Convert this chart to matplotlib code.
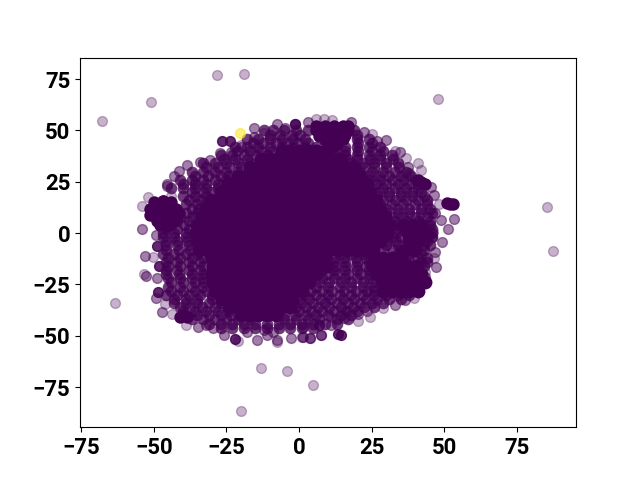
#!/usr/bin/env python
import matplotlib

matplotlib.use("Agg")
import matplotlib.pyplot as plt

PURPLE = "#440154"
YELLOW = "#fde725"

# single faint points around the blob
light_x = [-67.85, -51, -28.4, -19.1, 47.9, 85.65, 87.7, -63.4, -13, -4, 4.9, -20,
           -52, -11.9, 5.8, 8.6, 11.5, 25.2, 33, 37, 41.2, 42, 48.3, 46.2, 46.6, 43.6, 39.6, 28.8,
           24.6, 20.3, -50.4, -53.5, -46.3, -43.8, -38.8, -21, -7.5, -54, -44, -36, -30, -20]
light_y = [54.5, 63.7, 76.9, 77.6, 65.2, 12.7, -8.8, -33.8, -65.9, -67, -73.8, -86.5,
           17.6, 48.6, 55.8, 55.8, 55, 48.3, 40, 36.4, 34, 30.6, 14.1, 0.8, -12.2, -18.9, -31.6, -36.6,
           -41, -42.9, -11.7, -20, -34.6, -39.5, -44.5, -52.5, -53, 13, 18, 25, 31, 43]

# edge points that overlap a little
edge_x = [-15.4, -15.5, -27.4, -23.3, -34.3, -30.8, -38.6, -41.4, -43, -45.5, -45.5, -54, -49.4,
          -7.5, -4.9, 3.2, 17.9, 22.4, 30.1, 26.8, 34.8, 37.6, 38, 45.4, 46.5, 53.4, 49.1, 51.5,
          47, 49.2, 45.8, 46.9, 47.4, 43.3, 36.5, 33.1, 20.4, 23.5, 16.7, 11.2, 7.6, 3.7, 1.3,
          11.2, 15.4, -53.1, -52.8, -48.8, -49.2, -47.2, -34.8, -29.7, -25.7, -14.5, -11, -7.5,
          -2.7, 1.1, 3.7, 7.6, 1.5, -32, -18, -12, -9, -20, -1.4]
edge_y = [51.2, 46.8, 38.9, 39.5, 34.8, 35.6, 33.3, 30.1, 28, 22.9, 24, 2.1, -1,
          53.2, 51, 54.3, 54.3, 49.1, 45.4, 44.7, 39.4, 32.3, 29.1, 22.4, 18.5, 7, 6.3, 1.8,
          9.6, -4.2, -1.8, -9.4, -16.7, -21.3, -32.7, -34.8, -39.5, -37.9, -38, -41, -49.6, -51, -50.6,
          -44.7, -41.5, -11, -20.8, -21.6, -31.4, -38.4, -45.9, -46.3, -49.6, -51.9, -49.6, -52.2,
          -51.1, -50.6, -51.2, -49.6, -45.9, -44.5, -48, -47, -48, 42, 53]

# doubled-up points, darker than the edge ones
dark_x = [-26.5, -23.7, -49, -48.3, -48.6, -21.9, 13.5, 14.5, 6.8, -1.4]
dark_y = [44.9, 44.7, -6.2, -16.1, -28.6, -51.7, -48.9, -49.4, -44.9, 53]

# tight clumps
clump_x = [52, 51, 53, -50, -47, -44, -42.5, -51, -48, -45, -42, -50.5, -47.5, -44.5, -42, -49, -46, -43,
           -48, -45, -47, 42.2, 41, 43.5, -39.9, -41, -38.5, -51.5, -51.5, -41.5, -46,
           6, 9, 12, 15, 17, 6, 9, 12, 15, 17, 7, 10, 13, 16, 9, 12, 15, 11, 13]
clump_y = [14.3, 14.5, 14.2, 15, 15.5, 15, 12, 12, 12, 12, 11, 9, 9, 9, 8, 6, 6, 6, 4, 4, 15.5, 25, 26, 24, -40, -41, -41,
           9, 12, 10, 3.5,
           52, 52, 52, 52, 52, 50, 50, 50, 50, 50, 47.5, 47.5, 47.5, 48, 45.5, 45.5, 46, 43.5, 43.5]

# mottled band between the edge and the solid middle
ring_row_y = [50, 46, 42, 38, 34, 30, 26, 22, 18, 14, 10, 6, 2, -2, -6, -10, -14, -18, -22, -26, -30, -34, -38, -42, -46]
ring_row_x = [
    [-12, -9, -5, -1, 3, 19],
    [-18, -14, -10, -6, -2, 2, 20, 24],
    [-22, -18, -14, -10, -6, -2, 2, 6, 12, 16, 20, 24, 28],
    [-27, -23, -19, -15, -11, -7, 12, 16, 20, 24, 28, 32],
    [-33, -29, -25, -21, -17, 18, 22, 26, 30, 34],
    [-37, -33, -29, -25, -21, 21, 25, 29, 33, 37],
    [-41, -37, -33, -29, -25, -22, 24, 28, 32, 36, 40],
    [-44, -40, -36, -32, -28, 25, 29, 33, 37, 41],
    [-40, -36, -32, 27, 31, 35, 39, 43],
    [-39, -35, -32, 28, 32, 36, 40, 44],
    [-39, -35, 30, 34, 38, 42, 46],
    [-42, -38, 33, 37, 41, 45],
    [-46, -42, -38, 34, 38, 43, 46],
    [-47, -43, -39, 32, 35, 44, 46],
    [-46, -42, -38, -34, 30, 34, 43, 45],
    [-47, -43, -39, -35, -31, 14, 18, 22, 34, 38, 42],
    [-46, -42, -38, -34, -30, 12, 16, 20, 24, 42, 44],
    [-46, -42, -38, -34, -30, 8, 12, 16, 20, 24],
    [-45, -41, -37, -33, 8, 12, 16, 20, 24],
    [-45, -41, -37, -33, 6, 10, 14, 18, 22, 26],
    [-46, -42, -38, -34, -30, 2, 6, 10, 14, 18, 22, 26, 30, 34, 38],
    [-43, -39, -35, -31, -27, 1, 5, 9, 13, 17, 21, 25, 29],
    [-40, -36, -32, -28, -24, 0, 4, 8, 12, 16, 20],
    [-37, -33, -29, -25, -21, -17, -5, -1, 3, 7, 13, 17],
    [-27, -23, -19, -15, -11, -7, -3, 1, 5],
]

# second pass over the band, between the rows above
fill_row_y = [48, 44, 40, 36, 32, 28, 24, 20, 16, 12, 8, 4, 0, -4, -8, -12, -16, -20, -24, -28, -32, -36, -40, -44]
fill_row_x = [
    [-10, -6.5, -2.5, 0.5, 20],
    [-16, -12.5, -8, -4, -0.5, 3, 20.5, 25],
    [-21.5, -17, -13, -9.5, 12.5, 16, 20.5, 25, 29],
    [-26, -22, -18, 16.5, 20, 24.5, 28, 32.5],
    [-32, -28, -24, -20, 22.5, 26, 30, 34.5],
    [-36, -31.5, -27, -24, 24, 27.5, 31, 35, 38.5],
    [-40, -36, -32, -28, 26.5, 30, 34, 38, 41],
    [-37, -33, -29.5, 27.5, 31, 35, 39, 42],
    [-38, -34, 29, 33, 37, 41, 44],
    [-37, -34.5, 30.5, 34, 38, 42, 45],
    [-41, -37, 32, 36, 40, 44],
    [-44, -39.5, 34, 45],
    [-47, -43, -39, 33.5, 46],
    [-46, -42, -38.5, 30.5, 33.5, 44],
    [-46, -41.5, -37.5, 29, 32.5, 35, 43],
    [-45, -41, -37, -33, 12, 15.5, 19.5, 23, 37.5, 41, 44],
    [-45, -41, -37, -33, 12.5, 16, 19.5, 23, 43],
    [-46, -41.5, -37, -33, 9.5, 13, 17, 21, 24.5],
    [-44, -40, -36, -33, 7, 10.5, 14.5, 18, 22, 25.5],
    [-44, -40, -36, -32, 4, 8, 11.5, 15.5, 19.5, 23.5, 26],
    [-43, -39, -35, -30, 0, 3.5, 7.5, 11, 15, 19, 23, 27, 31, 35],
    [-41, -37.5, -33.5, -29, -1, 2.5, 6.5, 10.5, 14.5, 18.5, 22.5, 26],
    [-35, -31, -27, -23.5, -5, -1.5, 2.5, 6, 10, 14.5, 18],
    [-31, -27, -23, -19, -15, -11, -7, -3, 1, 5, 9, 13],
]

# solid middle of the blob
core_row_y = [40, 36, 32, 28, 24, 20, 16, 12, 8, 4, 0, -4, -8, -12, -16, -20, -24, -28, -32, -36, -40]
core_row_x = [
    [-6, -3, 0, 3, 6, 9],
    [-13, -10, -7, -4, -1, 2, 5, 8, 11, 14],
    [-17, -14, -11, -8, -5, -2, 1, 4, 7, 10, 13, 16, 19],
    [-21, -18, -15, -12, -9, -6, -3, 0, 3, 6, 9, 12, 15, 18, 21],
    [-24.5, -21.5, -18.5, -15.5, -12.5, -9.5, -6.5, -3.5, -0.5, 2.5, 5.5, 8.5, 11.5, 14.5, 17.5, 20.5, 23.5],
    [-27, -24, -21, -18, -15, -12, -9, -6, -3, 0, 3, 6, 9, 12, 15, 18, 21, 24],
    [-30.5, -27.5, -24.5, -21.5, -18.5, -15.5, -12.5, -9.5, -6.5, -3.5, -0.5, 2.5, 5.5, 8.5, 11.5, 14.5, 17.5, 20.5, 23.5, 26.5],
    [-32, -29, -26, -23, -20, -17, -14, -11, -8, -5, -2, 1, 4, 7, 10, 13, 16, 19, 22, 25, 28],
    [-33.5, -30.5, -27.5, -24.5, -21.5, -18.5, -15.5, -12.5, -9.5, -6.5, -3.5, -0.5, 2.5, 5.5, 8.5, 11.5, 14.5, 17.5, 20.5, 23.5, 26.5, 29.5],
    [-35, -32, -29, -26, -23, -20, -17, -14, -11, -8, -5, -2, 1, 4, 7, 10, 13, 16, 19, 22, 25, 28, 31, 36, 39, 42],
    [-35.5, -32.5, -29.5, -26.5, -23.5, -20.5, -17.5, -14.5, -11.5, -8.5, -5.5, -2.5, 0.5, 3.5, 6.5, 9.5, 12.5, 15.5, 18.5, 21.5, 24.5, 27.5, 30.5, 37.5, 40.5, 43],
    [-35, -32, -29, -26, -23, -20, -17, -14, -11, -8, -5, -2, 1, 4, 7, 10, 13, 16, 19, 22, 25, 28, 38, 41],
    [-34.5, -31.5, -28.5, -25.5, -22.5, -19.5, -16.5, -13.5, -10.5, -7.5, -4.5, -1.5, 1.5, 4.5, 7.5, 10.5, 13.5, 16.5, 19.5, 22.5, 25.5, 36.5, 40],
    [-30, -27, -24, -21, -18, -15, -12, -9, -6, -3, 0, 3, 6, 9, 26, 29, 32, 35],
    [-29.5, -26.5, -23.5, -20.5, -17.5, -14.5, -11.5, -8.5, -5.5, -2.5, 0.5, 3.5, 6.5, 9.5, 25.5, 28.5, 31.5, 34.5, 37.5, 40.5],
    [-30, -27, -24, -21, -18, -15, -12, -9, -6, -3, 0, 3, 6, 27, 30, 33, 36, 39, 42],
    [-29.5, -26.5, -23.5, -20.5, -17.5, -14.5, -11.5, -8.5, -5.5, -2.5, 0.5, 3.5, 28.5, 31.5, 34.5, 37.5, 40.5, 43.5],
    [-29, -26, -23, -20, -17, -14, -11, -8, -5, -2, 1, 29, 32, 35, 38, 41],
    [-26.5, -23.5, -20.5, -17.5, -14.5, -11.5, -8.5, -5.5, -2.5],
    [-24, -21, -18, -15, -12, -9, -6, -3],
    [-20, -17, -14, -11, -8],
]

yellow_x = [-20.4]
yellow_y = [48.8]


def flatten_rows(row_y, row_x):
    xs, ys = [], []
    for y_value, x_values in zip(row_y, row_x):
        xs.extend(x_values)
        ys.extend([y_value] * len(x_values))
    return xs, ys


def main() -> None:
    plt.rcParams["font.family"] = ["Roboto", "DejaVu Sans"]
    fig, ax = plt.subplots(figsize=(6.4, 4.8), dpi=100)

    ring_x, ring_y = flatten_rows(ring_row_y, ring_row_x)
    fill_x, fill_y = flatten_rows(fill_row_y, fill_row_x)
    core_x, core_y = flatten_rows(core_row_y, core_row_x)

    ax.scatter(light_x, light_y, s=50, color=PURPLE, alpha=0.3)
    ax.scatter(edge_x, edge_y, s=50, color=PURPLE, alpha=0.5)
    ax.scatter(ring_x, ring_y, s=70, color=PURPLE, alpha=0.78, linewidths=0)
    ax.scatter(fill_x, fill_y, s=70, color=PURPLE, alpha=0.78, linewidths=0)
    ax.scatter(dark_x, dark_y, s=50, color=PURPLE, alpha=0.85)
    ax.scatter(clump_x, clump_y, s=80, color=PURPLE, linewidths=0)
    ax.scatter(core_x, core_y, s=100, color=PURPLE, linewidths=0)
    ax.scatter(yellow_x, yellow_y, s=50, color=YELLOW, alpha=0.6)

    ax.set_xlim(-75.5, 95.5)
    ax.set_ylim(-94.5, 85.5)
    ax.set_xticks([-75, -50, -25, 0, 25, 50, 75])
    ax.set_yticks([-75, -50, -25, 0, 25, 50, 75])
    ax.tick_params(axis="both", labelsize=16)
    for label in ax.get_xticklabels() + ax.get_yticklabels():
        label.set_fontweight("bold")

    fig.savefig("out.png", dpi=100)
    plt.close(fig)


if __name__ == "__main__":
    main()
